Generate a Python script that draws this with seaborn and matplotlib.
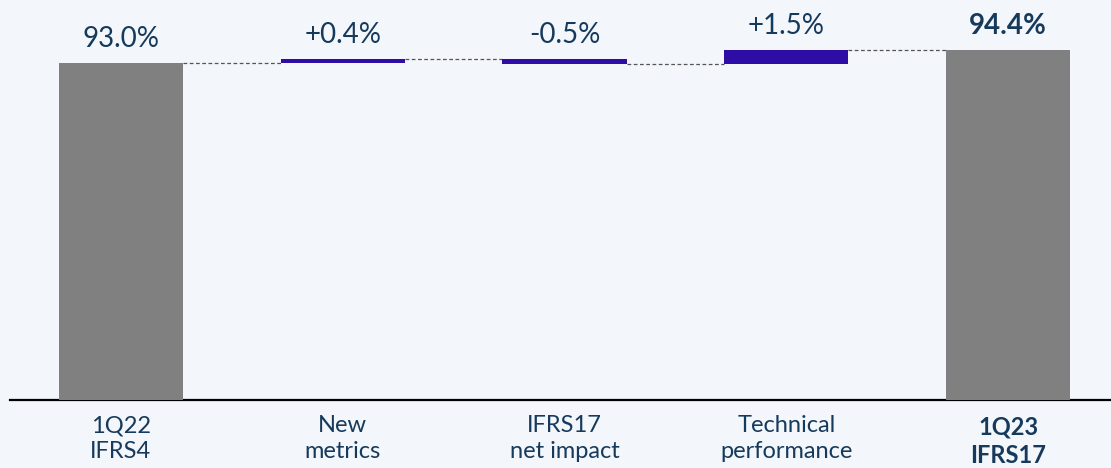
import numpy as np
import pandas as pd
import seaborn as sns
import matplotlib.pyplot as plt

categories = ["1Q22\nIFRS4", "New\nmetrics", "IFRS17\nnet impact", "Technical\nperformance", "1Q23\nIFRS17"]
start_value = 93.0
deltas = [0.4, -0.5, 1.5]
end_value = 94.4
value_labels = ["93.0%", "+0.4%", "-0.5%", "+1.5%", "94.4%"]

bg = "#F3F6FA"
grey = "#808080"
purple = "#2E0CA6"
navy = "#163A5C"

sns.set_theme(style="white")
plt.rcParams["font.family"] = ["Lato", "DejaVu Sans"]

# waterfall table
cum = np.cumsum([start_value] + deltas)
df = pd.DataFrame({
    "cat": categories,
    "bottom": [0] + list(np.minimum(cum[:-1], cum[1:])) + [0],
    "height": [start_value] + [abs(d) for d in deltas] + [end_value],
    "top": [start_value] + list(np.maximum(cum[:-1], cum[1:])) + [end_value],
    "level": list(cum) + [end_value],
    "color": [grey, purple, purple, purple, grey],
})

fig = plt.figure(figsize=(11.11, 4.68), dpi=100, facecolor=bg)
ax = fig.add_axes([10 / 1111, 68 / 468, 1109 / 1111, 400 / 468])
ax.set_facecolor(bg)

x = np.arange(len(df))
w = 0.56
ax.bar(x, df["height"], bottom=df["bottom"], width=w, color=df["color"],
       edgecolor=df["color"], linewidth=0, zorder=3)

# connectors
for i in range(len(df) - 1):
    ax.plot([x[i] + w / 2, x[i + 1] - w / 2], [df["level"][i]] * 2,
            color="#555555", lw=0.9, ls=(0, (3, 2)), zorder=2)

for i, lab in enumerate(value_labels):
    bold = i == len(value_labels) - 1
    ax.annotate(lab, (x[i], df["top"][i]), xytext=(0, 8), textcoords="offset points",
                ha="center", va="bottom", fontsize=20, color=navy,
                fontweight="bold" if bold else "normal")

ax.set_xlim(-0.5, 4.5)
ax.set_ylim(56.7, 99.8)
ax.set_xticks(x)
ax.set_xticklabels(categories, fontsize=17, color=navy, linespacing=1.3)
ax.get_xticklabels()[-1].set_fontweight("bold")
ax.tick_params(axis="x", length=0, pad=11)
ax.set_yticks([])
for s in ["top", "right", "left"]:
    ax.spines[s].set_visible(False)
ax.spines["bottom"].set_color("black")
ax.spines["bottom"].set_linewidth(1.6)

fig.savefig("out.png", dpi=100, facecolor=bg)
